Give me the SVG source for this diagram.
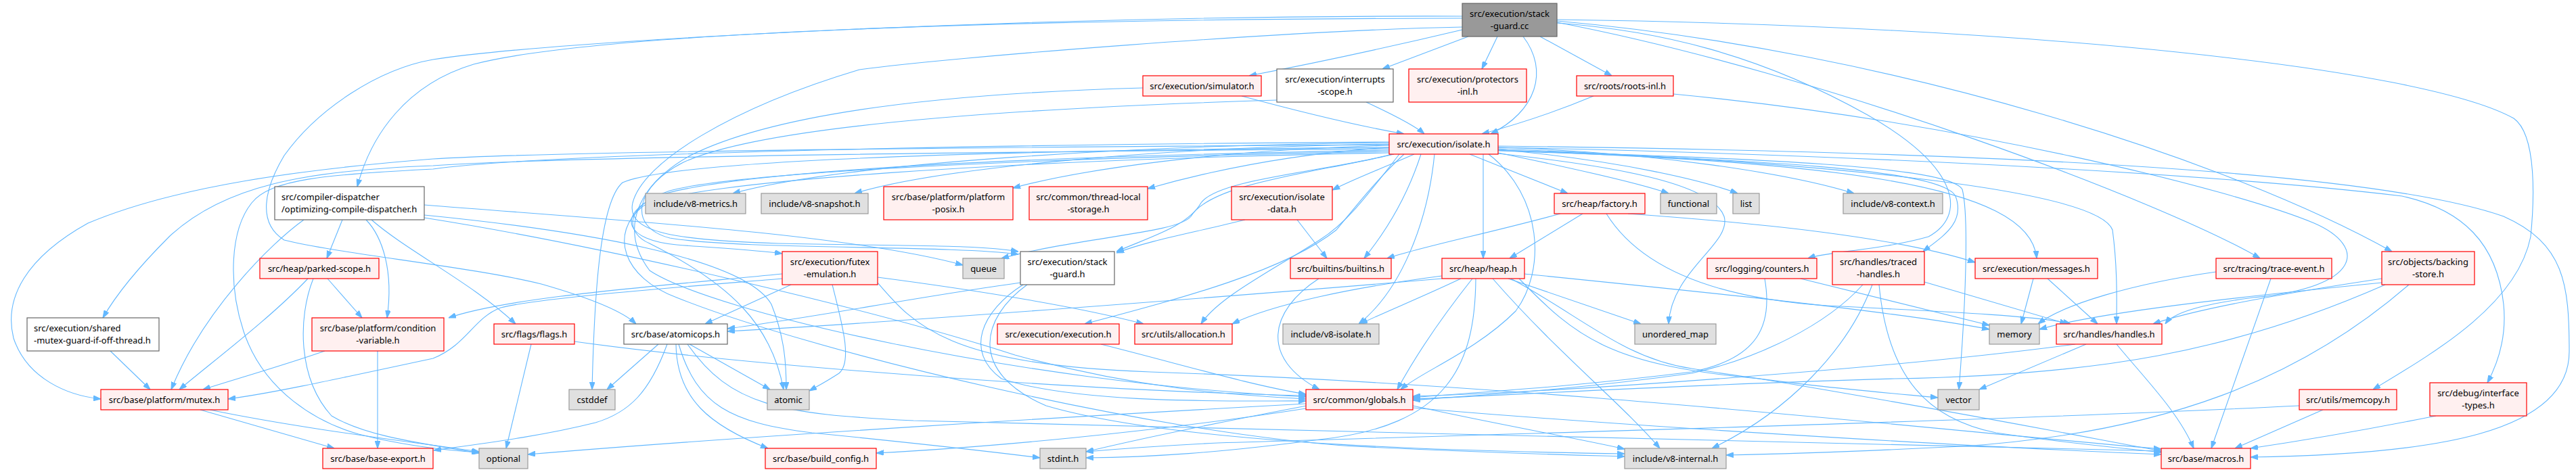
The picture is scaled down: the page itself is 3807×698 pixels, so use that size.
<svg xmlns="http://www.w3.org/2000/svg" width="3807" height="698" viewBox="0 0 3807 698">
<style>
.n rect{stroke-width:1.2}
.red rect{fill:#fff0f0;stroke:#ff0000}
.ext rect{fill:#e0e0e0;stroke:#999999}
.doc rect{fill:#ffffff;stroke:#666666}
.root rect{fill:#999999;stroke:#666666}
.n text{font-family:"Noto Sans","DejaVu Sans",sans-serif;font-size:13px;fill:#000;text-anchor:middle}
.n text.l{text-anchor:start}
#edges path{fill:none;stroke:#63b8ff;stroke-width:1.1;marker-end:url(#a)}
</style>
<defs>
<marker id="a" viewBox="0 0 10 7" refX="10" refY="3.5" markerWidth="11" markerHeight="8" markerUnits="userSpaceOnUse" orient="auto"><path d="M0,0L10,3.5L0,7z" fill="#63b8ff" stroke="#63b8ff"/></marker>
</defs>
<rect width="3807" height="698" fill="#fff"/>
<g id="edges">
<path d="M2161,44 C2060,68 1950,92 1846,112"/>
<path d="M2170,54 L2043,102"/>
<path d="M2213,54 L2190,102"/>
<path d="M2251,54 C2290,105 2270,165 2203,198"/>
<path d="M2276,54 L2382,112"/>
<path d="M2161,27 C1500,28 880,48 700,95 C600,125 548,200 528,276"/>
<path d="M2161,24 C1500,22 800,62 640,88 C560,102 470,160 420,230 C390,280 380,330 420,355 C500,375 700,395 800,420 C870,440 920,460 940,479"/>
<path d="M2161,40 C1900,45 1400,85 1270,103 C1080,160 950,240 935,300 C925,345 1000,355 1150,360 C1350,364 1450,362 1505,372"/>
<path d="M2301,34 C2450,45 2600,80 2760,170 C2900,250 2905,320 2850,350 C2780,370 2700,372 2672,382"/>
<path d="M2301,31 C2800,75 3300,240 3535,372"/>
<path d="M2301,33 C2700,110 3200,300 3340,382"/>
<path d="M2301,29 C3000,38 3580,100 3715,175 C3750,200 3745,300 3740,350 C3720,450 3600,520 3507,576"/>
<path d="M1835,142 C1920,165 2000,185 2075,198"/>
<path d="M1689,130 C1400,138 1150,165 1020,230 C940,275 915,340 960,400 C1050,460 1500,565 1930,587"/>
<path d="M2019,151 C2060,170 2090,185 2105,198"/>
<path d="M1887,148 C1500,160 1130,185 1010,240 C940,275 925,335 990,352 C1100,370 1400,362 1505,376"/>
<path d="M2355,142 C2300,165 2250,182 2190,198"/>
<path d="M2473,139 C2900,180 3300,280 3420,330 C3500,365 3490,425 3330,440 C3240,452 3210,465 3200,479"/>
<path d="M2053,211 C1700,214 1250,240 1083,286"/>
<path d="M2053,213 C1700,218 1380,250 1263,286"/>
<path d="M2053,215 C1800,222 1600,250 1497,278"/>
<path d="M2053,218 C1900,228 1780,255 1696,279"/>
<path d="M2090,228 C2040,250 2000,265 1969,281"/>
<path d="M2172,228 L2317,286"/>
<path d="M2214,226 C2330,250 2420,270 2466,286"/>
<path d="M2214,221 C2400,238 2520,268 2568,286"/>
<path d="M2214,218 C2450,225 2650,258 2740,286"/>
<path d="M2053,222 C1600,230 1100,248 970,290 C910,320 925,355 1000,362 C1080,368 1120,370 1156,375"/>
<path d="M2058,228 C1950,255 1790,270 1760,320 C1740,345 1600,350 1480,382"/>
<path d="M2060,228 C1950,255 1800,265 1775,300 C1755,335 1700,350 1650,372"/>
<path d="M2100,228 C2080,290 2050,340 2016,382"/>
<path d="M2192,228 L2192,382"/>
<path d="M2214,223 C2600,236 2870,250 2890,290 C2905,330 2870,350 2842,372"/>
<path d="M2214,222 C2700,240 3000,270 3010,382"/>
<path d="M2053,220 C1400,225 800,233 640,245 C450,252 330,275 250,350 C210,390 175,430 152,470"/>
<path d="M2053,214 C1400,218 800,225 640,235 C450,250 260,275 130,330 C40,380 5,440 20,500 C40,560 100,585 149,590"/>
<path d="M2075,228 C2030,270 2000,310 1975,340 C1900,400 1750,440 1603,479"/>
<path d="M2068,228 C2020,290 1990,330 1950,355 C1880,400 1800,440 1775,479"/>
<path d="M2120,228 C2110,330 2070,430 2008,479"/>
<path d="M2214,227 C2380,245 2530,270 2548,320 C2560,360 2470,400 2466,479"/>
<path d="M2214,220 C2700,240 3100,280 3122,340 C3130,400 3128,450 3128,479"/>
<path d="M2214,222 C2600,235 2880,245 2900,280 C2910,320 2905,450 2895,576"/>
<path d="M2200,228 C2280,290 2285,400 2240,460 C2180,520 2100,550 2070,576"/>
<path d="M2053,218 C1500,222 1000,235 920,270 C885,300 878,450 875,576"/>
<path d="M2053,224 C1600,232 1100,252 990,282 C920,305 925,345 960,360 C1080,420 1140,480 1158,576"/>
<path d="M2214,218 C2800,230 3300,260 3550,290 C3640,310 3690,360 3700,450 C3705,500 3690,540 3676,566"/>
<path d="M2053,226 C1500,236 1010,268 950,305 C900,345 920,410 1000,440 C1200,520 1700,640 2000,660 C2200,670 2330,673 2401,675"/>
<path d="M2214,216 C2900,224 3500,250 3700,320 C3790,360 3797,420 3797,520 C3797,640 3600,672 3326,676"/>
<path d="M2053,210 C1400,214 800,228 640,250 C480,258 400,265 372,300 C340,340 337,420 360,490 C390,580 470,625 530,642 C600,660 660,666 708,669"/>
<path d="M449,325 C400,360 300,460 253,576"/>
<path d="M506,325 L483,382"/>
<path d="M541,325 C565,350 582,400 572,470"/>
<path d="M549,325 C600,370 700,420 762,479"/>
<path d="M627,303 C900,325 1250,345 1423,392"/>
<path d="M627,318 C850,340 1100,380 1140,450 C1160,500 1162,540 1162,576"/>
<path d="M627,322 C900,365 1300,460 1500,525 C1700,580 1850,585 1930,590"/>
<path d="M455,412 C400,470 320,530 265,576"/>
<path d="M484,412 L535,470"/>
<path d="M463,412 C440,470 440,560 490,615 C540,645 620,655 708,670"/>
<path d="M163,519 L222,576"/>
<path d="M480,519 C420,540 350,560 300,576"/>
<path d="M558,519 L558,663"/>
<path d="M296,606 C380,630 450,650 494,663"/>
<path d="M310,606 C450,635 620,655 708,668"/>
<path d="M785,509 L748,663"/>
<path d="M849,505 C1100,540 1600,578 1930,585"/>
<path d="M973,509 L897,576"/>
<path d="M986,509 C960,580 930,610 880,625 C800,645 720,655 641,666"/>
<path d="M999,509 C1000,590 1050,630 1135,663"/>
<path d="M1003,509 C1030,600 1080,625 1200,640 C1350,655 1450,666 1537,677"/>
<path d="M1016,509 C1080,600 1150,612 1350,622 C1900,640 2800,652 3194,667"/>
<path d="M1019,509 L1138,576"/>
<path d="M1156,405 C950,425 750,440 663,470"/>
<path d="M1169,421 L1042,479"/>
<path d="M1156,412 C1000,425 800,440 740,455 C700,470 690,510 640,530 C500,560 400,582 337,590"/>
<path d="M1230,421 C1245,480 1260,535 1240,552 C1220,565 1210,570 1196,578"/>
<path d="M1297,410 C1450,430 1600,455 1690,479"/>
<path d="M1297,418 C1350,480 1400,540 1700,550 C2300,570 2900,640 3194,664"/>
<path d="M1508,418 C1350,440 1200,470 1075,486"/>
<path d="M1512,421 C1450,460 1425,520 1480,560 C1600,600 1850,592 1930,593"/>
<path d="M1518,421 C1450,470 1430,550 1546,600 C1750,660 2200,668 2401,671"/>
<path d="M1917,325 L1961,382"/>
<path d="M1840,325 C1760,345 1700,355 1650,374"/>
<path d="M1949,412 C1875,460 1862,530 1950,576"/>
<path d="M2306,316 C2200,345 2100,365 2050,382"/>
<path d="M2339,316 L2231,382"/>
<path d="M2374,316 C2420,390 2520,440 2700,452 C2900,462 3020,468 3060,479"/>
<path d="M2406,316 C2600,330 2800,350 2919,388"/>
<path d="M2159,412 C2100,440 2050,460 2010,479"/>
<path d="M2176,412 C2130,470 2090,530 2065,576"/>
<path d="M2181,412 C2180,540 2140,630 1950,650 C1800,670 1700,676 1605,677"/>
<path d="M2206,412 C2300,520 2400,600 2453,663"/>
<path d="M2229,412 L2425,479"/>
<path d="M2253,405 C2500,430 2800,460 2940,487"/>
<path d="M2233,412 C2340,470 2400,530 2500,545 C2650,570 2780,580 2864,588"/>
<path d="M2131,408 C2000,425 1880,450 1821,479"/>
<path d="M2131,412 C1800,440 1300,478 1075,490"/>
<path d="M2245,412 C2330,500 2380,540 2600,560 C2900,610 3100,650 3194,667"/>
<path d="M2608,412 C2620,480 2600,530 2500,550 C2300,575 2150,582 2088,588"/>
<path d="M2661,412 L2940,481"/>
<path d="M2753,421 C2700,480 2600,530 2500,552 C2300,580 2150,586 2088,592"/>
<path d="M2767,421 C2730,520 2640,610 2530,663"/>
<path d="M2777,421 C2790,560 2850,620 2950,640 C3050,655 3130,662 3194,669"/>
<path d="M2844,417 L3055,479"/>
<path d="M3005,412 L2987,479"/>
<path d="M3026,412 L3100,479"/>
<path d="M3275,402 C3150,420 3050,450 3012,479"/>
<path d="M3356,412 L3268,663"/>
<path d="M3520,412 C3400,430 3250,455 3182,479"/>
<path d="M3520,418 C3300,440 3100,462 3014,487"/>
<path d="M3525,421 C3300,520 3100,555 2800,560 C2500,568 2200,586 2088,590"/>
<path d="M3560,421 C3400,560 3200,640 2900,660 C2700,670 2600,672 2551,673"/>
<path d="M3083,509 L2925,576"/>
<path d="M3067,509 C2800,545 2300,580 2088,586"/>
<path d="M3128,509 C3170,560 3220,610 3242,663"/>
<path d="M1627,509 C1750,540 1850,570 1930,583"/>
<path d="M3433,606 L3303,663"/>
<path d="M3398,600 C3000,620 2300,640 1800,655 C1700,660 1640,665 1605,668"/>
<path d="M3600,615 C3500,635 3400,652 3326,663"/>
<path d="M1931,600 C1800,625 1680,650 1605,668"/>
<path d="M1930,604 C1700,640 1450,662 1295,670"/>
<path d="M1930,597 C1600,615 1100,645 780,672"/>
<path d="M2088,600 C2200,625 2330,648 2401,664"/>
<path d="M2088,603 C2400,630 2900,660 3194,672"/>
</g>
<g id="n_root" class="n root"><rect x="2161" y="5" width="140" height="49"/><text x="2231" y="25">src/execution/stack</text><text x="2231" y="43">-guard.cc</text></g>
<g id="n_simulator" class="n red"><rect x="1689" y="112" width="175" height="30"/><text x="1776.5" y="131.5">src/execution/simulator.h</text></g>
<g id="n_interrupts" class="n doc"><rect x="1887" y="102" width="172" height="49"/><text x="1973" y="122">src/execution/interrupts</text><text x="1973" y="140">-scope.h</text></g>
<g id="n_protectors" class="n red"><rect x="2082" y="102" width="174" height="49"/><text x="2169" y="122">src/execution/protectors</text><text x="2169" y="140">-inl.h</text></g>
<g id="n_roots" class="n red"><rect x="2330" y="112" width="143" height="30"/><text x="2401.5" y="131.5">src/roots/roots-inl.h</text></g>
<g id="n_isolate" class="n red"><rect x="2053" y="198" width="161" height="30"/><text x="2133.5" y="217.5">src/execution/isolate.h</text></g>
<g id="n_compiler" class="n doc"><rect x="406" y="276" width="221" height="49"/><text class="l" x="416" y="296">src/compiler-dispatcher</text><text class="l" x="416" y="314">/optimizing-compile-dispatcher.h</text></g>
<g id="n_v8metrics" class="n ext"><rect x="954" y="286" width="148" height="30"/><text x="1028" y="305.5">include/v8-metrics.h</text></g>
<g id="n_v8snapshot" class="n ext"><rect x="1125" y="286" width="158" height="30"/><text x="1204" y="305.5">include/v8-snapshot.h</text></g>
<g id="n_posix" class="n red"><rect x="1306" y="276" width="191" height="49"/><text x="1401.5" y="296">src/base/platform/platform</text><text x="1401.5" y="314">-posix.h</text></g>
<g id="n_tls" class="n red"><rect x="1521" y="276" width="175" height="49"/><text x="1608.5" y="296">src/common/thread-local</text><text x="1608.5" y="314">-storage.h</text></g>
<g id="n_isolatedata" class="n red"><rect x="1820" y="276" width="149" height="49"/><text x="1894.5" y="296">src/execution/isolate</text><text x="1894.5" y="314">-data.h</text></g>
<g id="n_factory" class="n red"><rect x="2297" y="286" width="134" height="30"/><text x="2364" y="305.5">src/heap/factory.h</text></g>
<g id="n_functional" class="n ext"><rect x="2454" y="286" width="83" height="30"/><text x="2495.5" y="305.5">functional</text></g>
<g id="n_list" class="n ext"><rect x="2561" y="286" width="39" height="30"/><text x="2580.5" y="305.5">list</text></g>
<g id="n_v8context" class="n ext"><rect x="2724" y="286" width="147" height="30"/><text x="2797.5" y="305.5">include/v8-context.h</text></g>
<g id="n_parked" class="n red"><rect x="384" y="382" width="176" height="30"/><text x="472" y="401.5">src/heap/parked-scope.h</text></g>
<g id="n_futex" class="n red"><rect x="1156" y="372" width="141" height="49"/><text x="1226.5" y="392">src/execution/futex</text><text x="1226.5" y="410">-emulation.h</text></g>
<g id="n_queue" class="n ext"><rect x="1423" y="382" width="61" height="30"/><text x="1453.5" y="401.5">queue</text></g>
<g id="n_stackguardh" class="n doc"><rect x="1508" y="372" width="139" height="49"/><text x="1577.5" y="392">src/execution/stack</text><text x="1577.5" y="410">-guard.h</text></g>
<g id="n_builtins" class="n red"><rect x="1907" y="382" width="149" height="30"/><text x="1981.5" y="401.5">src/builtins/builtins.h</text></g>
<g id="n_heap" class="n red"><rect x="2131" y="382" width="122" height="30"/><text x="2192" y="401.5">src/heap/heap.h</text></g>
<g id="n_counters" class="n red"><rect x="2523" y="382" width="162" height="30"/><text x="2604" y="401.5">src/logging/counters.h</text></g>
<g id="n_traced" class="n red"><rect x="2708" y="372" width="136" height="49"/><text x="2776" y="392">src/handles/traced</text><text x="2776" y="410">-handles.h</text></g>
<g id="n_messages" class="n red"><rect x="2919" y="382" width="181" height="30"/><text x="3009.5" y="401.5">src/execution/messages.h</text></g>
<g id="n_traceevent" class="n red"><rect x="3275" y="382" width="171" height="30"/><text x="3360.5" y="401.5">src/tracing/trace-event.h</text></g>
<g id="n_backing" class="n red"><rect x="3520" y="372" width="137" height="49"/><text x="3588.5" y="392">src/objects/backing</text><text x="3588.5" y="410">-store.h</text></g>
<g id="n_shared" class="n doc"><rect x="40" y="470" width="195" height="49"/><text class="l" x="50" y="490">src/execution/shared</text><text class="l" x="50" y="508">-mutex-guard-if-off-thread.h</text></g>
<g id="n_condvar" class="n red"><rect x="461" y="470" width="195" height="49"/><text x="558.5" y="490">src/base/platform/condition</text><text x="558.5" y="508">-variable.h</text></g>
<g id="n_flags" class="n red"><rect x="730" y="479" width="119" height="30"/><text x="789.5" y="498.5">src/flags/flags.h</text></g>
<g id="n_atomicops" class="n doc"><rect x="922" y="479" width="153" height="30"/><text x="998.5" y="498.5">src/base/atomicops.h</text></g>
<g id="n_execution" class="n red"><rect x="1474" y="479" width="180" height="30"/><text x="1564" y="498.5">src/execution/execution.h</text></g>
<g id="n_allocation" class="n red"><rect x="1677" y="479" width="144" height="30"/><text x="1749" y="498.5">src/utils/allocation.h</text></g>
<g id="n_v8isolate" class="n ext"><rect x="1896" y="479" width="142" height="30"/><text x="1967" y="498.5">include/v8-isolate.h</text></g>
<g id="n_unorderedmap" class="n ext"><rect x="2416" y="479" width="120" height="30"/><text x="2476" y="498.5">unordered_map</text></g>
<g id="n_memory" class="n ext"><rect x="2940" y="479" width="74" height="30"/><text x="2977" y="498.5">memory</text></g>
<g id="n_handles" class="n red"><rect x="3039" y="479" width="156" height="30"/><text x="3117" y="498.5">src/handles/handles.h</text></g>
<g id="n_mutex" class="n red"><rect x="149" y="576" width="188" height="30"/><text x="243" y="595.5">src/base/platform/mutex.h</text></g>
<g id="n_cstddef" class="n ext"><rect x="841" y="576" width="68" height="30"/><text x="875" y="595.5">cstddef</text></g>
<g id="n_atomic" class="n ext"><rect x="1134" y="576" width="62" height="30"/><text x="1165" y="595.5">atomic</text></g>
<g id="n_globals" class="n red"><rect x="1930" y="576" width="158" height="30"/><text x="2009" y="595.5">src/common/globals.h</text></g>
<g id="n_vector" class="n ext"><rect x="2864" y="576" width="61" height="30"/><text x="2894.5" y="595.5">vector</text></g>
<g id="n_memcopy" class="n red"><rect x="3398" y="576" width="144" height="30"/><text x="3470" y="595.5">src/utils/memcopy.h</text></g>
<g id="n_interface" class="n red"><rect x="3591" y="566" width="143" height="49"/><text x="3662.5" y="586">src/debug/interface</text><text x="3662.5" y="604">-types.h</text></g>
<g id="n_baseexport" class="n red"><rect x="477" y="663" width="163" height="30"/><text x="558.5" y="682.5">src/base/base-export.h</text></g>
<g id="n_optional" class="n ext"><rect x="708" y="663" width="72" height="30"/><text x="744" y="682.5">optional</text></g>
<g id="n_buildconfig" class="n red"><rect x="1131" y="663" width="164" height="30"/><text x="1213" y="682.5">src/base/build_config.h</text></g>
<g id="n_stdint" class="n ext"><rect x="1537" y="663" width="68" height="30"/><text x="1571" y="682.5">stdint.h</text></g>
<g id="n_v8internal" class="n ext"><rect x="2401" y="663" width="150" height="30"/><text x="2476" y="682.5">include/v8-internal.h</text></g>
<g id="n_macros" class="n red"><rect x="3194" y="663" width="132" height="30"/><text x="3260" y="682.5">src/base/macros.h</text></g>
</svg>
